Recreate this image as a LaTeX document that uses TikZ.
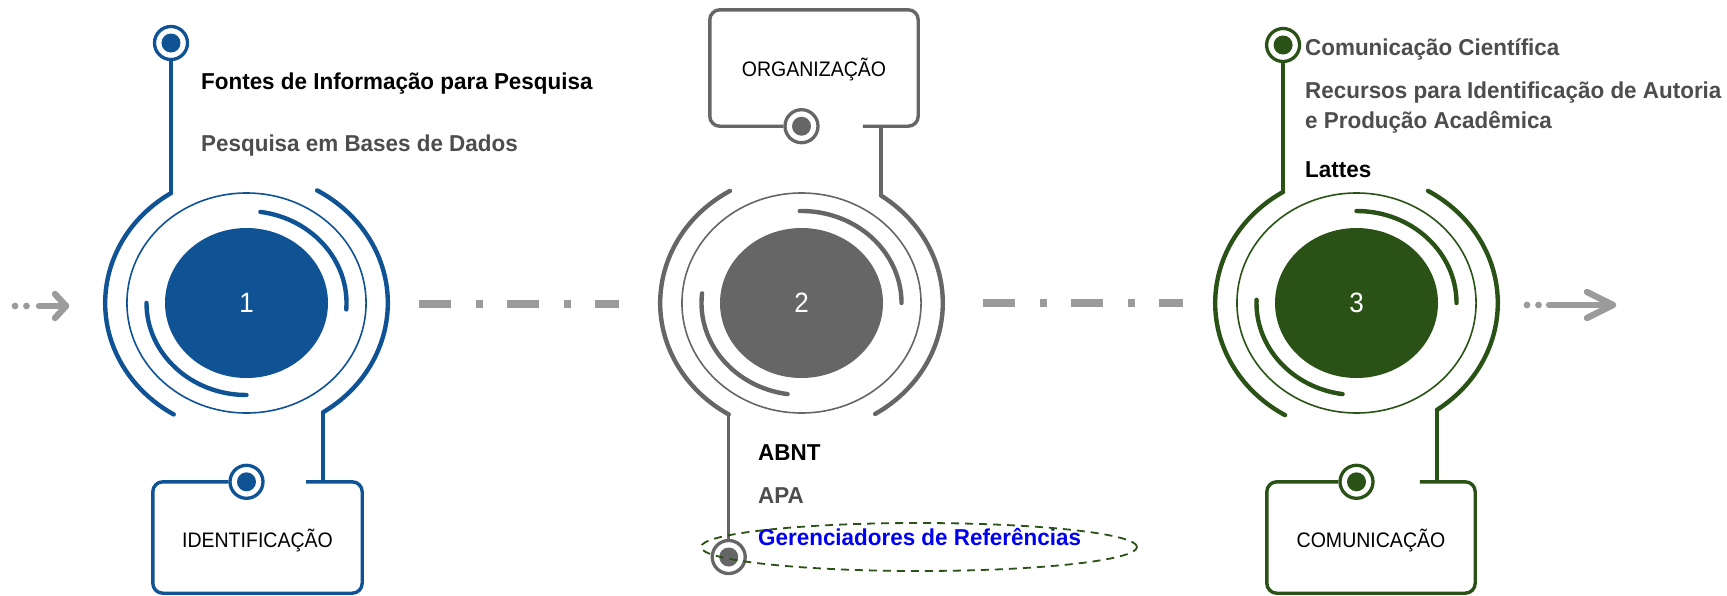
\documentclass[tikz,border=0pt]{standalone}
\usepackage{fontspec}
\setmainfont{Liberation Sans}
\newfontfamily\regfont[FakeStretch=0.93]{Liberation Sans}
\newfontfamily\boldfont[FakeStretch=0.975]{Liberation Sans}
\usetikzlibrary{shapes.geometric,calc}
\definecolor{cblue}{RGB}{15,83,148}
\definecolor{cgrey}{RGB}{102,102,102}
\definecolor{cgreen}{RGB}{42,82,22}
\definecolor{dashgrey}{RGB}{155,155,155}
\definecolor{txtgrey}{RGB}{77,77,77}
\definecolor{linkblue}{RGB}{0,0,240}
\tikzset{
 hub/.style={ellipse, fill=#1, minimum width=163pt, minimum height=150pt, inner sep=0pt, text=white, font=\regfont\fontsize{28}{28}\selectfont},
 ring/.style={draw=#1, line width=1.6pt},
 thickarc/.style={draw=#1, line width=4.4pt, line cap=round},
 stem/.style={draw=#1, line width=3.5pt},
 dotpin/.style={circle, draw=#1, fill=white, line width=3.3pt, minimum size=33pt, inner sep=0pt, path picture={\fill[#1] (path picture bounding box.center) circle (9.5pt);}},
 boxshape/.style={rectangle, minimum width=#1, minimum height=111pt, inner sep=0pt},
 boxline/.style={draw=#1, line width=3.4pt, rounded corners=10pt},
 boxlabel/.style={anchor=base, font=\regfont\fontsize{21}{21}\selectfont, text=black, inner sep=0pt},
 head/.style={anchor=base west, font=\boldfont\bfseries\fontsize{23}{23}\selectfont, inner sep=0pt},
 dashdot/.style={draw=dashgrey, line width=8pt, dash pattern=on 32pt off 25pt on 7pt off 24pt},
 greyarrow/.style={draw=dashgrey, line width=6.4pt, line cap=round, line join=round},
}
\begin{document}
\begin{tikzpicture}[x=1pt,y=1pt]
\useasboundingbox (0,0) rectangle (1727,-595);

% ---------- Circle 1 ----------
\node[hub=cblue] (n1) at (246.5,-303) {1};
\begin{scope}[shift={(246.5,-303)}, xscale=1.087]
 \draw[ring=cblue] (0,0) circle (110);
 \draw[thickarc=cblue] (122.3:130) arc[start angle=122.3, end angle=239, radius=130];
 \draw[thickarc=cblue] (-57.2:130) arc[start angle=-57.2, end angle=60, radius=130];
 \draw[thickarc=cblue] (-4:92) arc[start angle=-4, end angle=82, radius=92];
 \draw[thickarc=cblue] (180:92) arc[start angle=180, end angle=270, radius=92];
 \coordinate (c1tl) at (122.3:130);
 \coordinate (c1br) at (-57.2:130);
\end{scope}
\node[dotpin=cblue] (p1t) at (c1tl |- 0,-43) {};
\draw[stem=cblue] (p1t) -- (c1tl);
\node[boxshape=209pt] (b1) at (257.5,-537.5) {};
\node[dotpin=cblue] (p1b) at (n1 |- b1.north) {};
\draw[boxline=cblue] (p1b.west) -- (b1.north west) -- (b1.south west) -- (b1.south east) -- (b1.north east) -- ($(c1br |- b1.north)+(-17,0)$);
\draw[stem=cblue] (c1br) -- (c1br |- b1.north);
\node[boxlabel] (t1) at (257.5,-547) {IDENTIFICAÇÃO};
\node[head, text=black] (h1a) at (201,-89) {Fontes de Informação para Pesquisa};
\node[head, text=txtgrey] (h1b) at (201,-151) {Pesquisa em Bases de Dados};

% ---------- Circle 2 ----------
\node[hub=cgrey] (n2) at (801.5,-303) {2};
\begin{scope}[shift={(801.5,-303)}, xscale=1.087]
 \draw[ring=cgrey] (0,0) circle (110);
 \draw[thickarc=cgrey] (120.4:130) arc[start angle=120.4, end angle=239, radius=130];
 \draw[thickarc=cgrey] (-58.6:130) arc[start angle=-58.6, end angle=55.8, radius=130];
 \draw[thickarc=cgrey] (0:92) arc[start angle=0, end angle=91, radius=92];
 \draw[thickarc=cgrey] (174:92) arc[start angle=174, end angle=262, radius=92];
 \coordinate (c2tr) at (55.8:130);
 \coordinate (c2bl) at (239:130);
\end{scope}
\node[boxshape=208pt, minimum height=116pt] (b2) at (814,-68) {};
\node[dotpin=cgrey] (p2t) at (n2 |- b2.south) {};
\draw[boxline=cgrey] (p2t.west) -- (b2.south west) -- (b2.north west) -- (b2.north east) -- (b2.south east) -- ($(c2tr |- b2.south)+(-18,0)$);
\draw[stem=cgrey] (c2tr) -- (c2tr |- b2.south);
\node[boxlabel] (t2) at (814,-76) {ORGANIZAÇÃO};
\node[dotpin=cgrey] (p2b) at (c2bl |- 0,-557) {};
\draw[stem=cgrey] (c2bl) -- (p2b);
\node[head, text=black] (h2a) at (758,-460) {ABNT};
\node[head, text=txtgrey] (h2b) at (758,-503) {APA};
\node[head, text=linkblue] (h2c) at (758,-545) {Gerenciadores de Referências};
\node[ellipse, draw=cgreen, line width=1.8pt, dash pattern=on 8pt off 6pt, minimum width=436pt, minimum height=48pt, inner sep=0pt] (hl) at (919,-547) {};

% ---------- Circle 3 ----------
\node[hub=cgreen] (n3) at (1356.5,-303) {3};
\begin{scope}[shift={(1356.5,-303)}, xscale=1.087]
 \draw[ring=cgreen] (0,0) circle (110);
 \draw[thickarc=cgreen] (121.3:130) arc[start angle=121.3, end angle=239.6, radius=130];
 \draw[thickarc=cgreen] (-55.3:130) arc[start angle=-55.3, end angle=59.6, radius=130];
 \draw[thickarc=cgreen] (0:92) arc[start angle=0, end angle=90, radius=92];
 \draw[thickarc=cgreen] (178:92) arc[start angle=178, end angle=262, radius=92];
 \coordinate (c3tl) at (121.3:130);
 \coordinate (c3br) at (-55.3:130);
\end{scope}
\node[dotpin=cgreen] (p3t) at (c3tl |- 0,-45) {};
\draw[stem=cgreen] (p3t) -- (c3tl);
\node[boxshape=208pt] (b3) at (1371,-537.5) {};
\node[dotpin=cgreen] (p3b) at (n3 |- b3.north) {};
\draw[boxline=cgreen] (p3b.west) -- (b3.north west) -- (b3.south west) -- (b3.south east) -- (b3.north east) -- ($(c3br |- b3.north)+(-17,0)$);
\draw[stem=cgreen] (c3br) -- (c3br |- b3.north);
\node[boxlabel] (t3) at (1371,-547) {COMUNICAÇÃO};
\node[head, text=txtgrey] (h3a) at (1305,-55) {Comunicação Científica};
\node[head, text=txtgrey] (h3b) at (1305,-98) {Recursos para Identificação de Autoria};
\node[head, text=txtgrey] (h3c) at (1305,-128) {e Produção Acadêmica};
\node[head, text=black] (h3d) at (1305,-177) {Lattes};

% ---------- connectors ----------
\coordinate (d1a) at (419,-304);
\coordinate (d1b) at (619,-304);
\draw[dashdot] (d1a) -- (d1b);
\coordinate (d2a) at (983,-303);
\coordinate (d2b) at (1183,-303);
\draw[dashdot] (d2a) -- (d2b);

% left arrow
\fill[dashgrey] (15,-306) circle (3.4);
\fill[dashgrey] (26.5,-306) circle (3.4);
\coordinate (la) at (39,-306);
\coordinate (lb) at (66,-306);
\draw[greyarrow] (la) -- (lb);
\draw[greyarrow] (55,-294) -- (lb) -- (55,-318);

% right arrow
\fill[dashgrey] (1527,-305) circle (3.4);
\fill[dashgrey] (1538.5,-305) circle (3.4);
\coordinate (ra) at (1549,-305);
\coordinate (rb) at (1613,-305);
\draw[greyarrow] (ra) -- (rb);
\draw[greyarrow] (1587,-292) -- (rb) -- (1587,-318);
\end{tikzpicture}
\end{document}
